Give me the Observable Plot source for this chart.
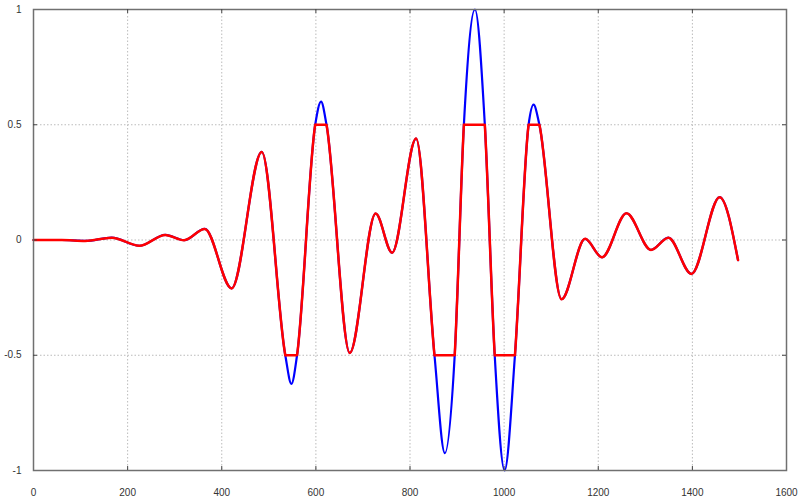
<!DOCTYPE html>
<html>
<head>
<meta charset="utf-8">
<script src="https://cdn.jsdelivr.net/npm/d3@7"></script>
<script src="https://cdn.jsdelivr.net/npm/@observablehq/plot@0.6"></script>
<style>
  html, body { margin: 0; padding: 0; background: #fff; }
  svg { display: block; }
</style>
</head>
<body>
<div id="chart"></div>
<script>
// Signal (blue): extrema and ±0.5 crossings
const sigX = [0, 60, 110, 166, 225, 280, 320, 364, 421, 485, 535, 548, 560, 598.6, 611, 622.6, 672, 727, 762, 813, 852, 874, 895, 914.5, 938, 959, 980, 1001, 1023, 1052, 1062.5, 1075, 1122, 1172, 1208, 1260, 1312, 1349, 1398, 1458, 1497];
const sigY = [0, 0, -0.004, 0.01, -0.025, 0.022, -0.001, 0.048, -0.21, 0.382, -0.5, -0.624, -0.5, 0.5, 0.6, 0.5, -0.49, 0.115, -0.055, 0.44, -0.5, -0.925, -0.5, 0.5, 1.0, 0.5, -0.5, -1.0, -0.5, 0.5, 0.587, 0.5, -0.257, 0.005, -0.075, 0.116, -0.043, 0.01, -0.147, 0.186, -0.087];

// Clipped (red) flat segments at the clip levels
const clipLevel = [-0.5, 0.5, -0.5, 0.5, -0.5, 0.5];
const clipStart = [535, 598.6, 852, 914.5, 980, 1052];
const clipEnd   = [560, 622.6, 895, 959, 1023, 1075];

// Ticks
const xTicks = [0, 200, 400, 600, 800, 1000, 1200, 1400, 1600];
const yTicks = [-1, -0.5, 0, 0.5, 1];
const xGrid = [200, 400, 600, 800, 1000, 1200, 1400];
const yGrid = [-0.5, 0, 0.5];

const signal = sigX.map((x, i) => ({x, y: sigY[i]}));
const flats = clipLevel.map((y, i) => ({y, x1: clipStart[i], x2: clipEnd[i]}));

const W = 800, H = 502;
const mL = 33, mR = 14, mT = 9, mB = 32;
const innerW = W - mL - mR, innerH = H - mT - mB;
const tickLen = 4;

const chart = Plot.plot({
  width: W,
  height: H,
  marginLeft: mL,
  marginRight: mR,
  marginTop: mT,
  marginBottom: mB,
  style: {fontFamily: "'Liberation Sans', Arial, sans-serif", fontSize: "10px", color: "#333", background: "#fff"},
  x: {domain: [0, 1600], label: null},
  y: {domain: [-1, 1], label: null},
  marks: [
    Plot.ruleX(xGrid, {x: d => d, stroke: "#bbb", strokeWidth: 1, strokeDasharray: "1.5,2"}),
    Plot.ruleY(yGrid, {y: d => d, stroke: "#bbb", strokeWidth: 1, strokeDasharray: "1.5,2"}),
    Plot.line(signal, {x: "x", y: "y", stroke: "#0000ff", strokeWidth: 2.2, curve: "monotone-x"}),
    Plot.line(signal, {x: "x", y: "y", stroke: "#ff0000", strokeWidth: 2.5, curve: "monotone-x"}),
    Plot.ruleY(flats, {y: "y", x1: "x1", x2: "x2", stroke: "#ff0000", strokeWidth: 2.5}),
    Plot.frame({stroke: "#707070", strokeWidth: 1.5}),
    // inward tick marks
    Plot.ruleX(xGrid, {x: d => d, stroke: "#444", strokeWidth: 1, insetBottom: innerH - tickLen}),
    Plot.ruleX(xGrid, {x: d => d, stroke: "#444", strokeWidth: 1, insetTop: innerH - tickLen}),
    Plot.ruleY(yGrid, {y: d => d, stroke: "#444", strokeWidth: 1, insetRight: innerW - tickLen}),
    Plot.ruleY(yGrid, {y: d => d, stroke: "#444", strokeWidth: 1, insetLeft: innerW - tickLen}),
    Plot.axisX(xTicks, {anchor: "bottom", tickSize: 0, tickPadding: 18, tickFormat: d => String(d), fill: "#333", label: null}),
    Plot.axisY(yTicks, {anchor: "left", tickSize: 0, tickPadding: 12, tickFormat: d => String(d), fill: "#333", label: null})
  ]
});

// Clip the red line to the band [-0.5, 0.5] using the plot's own y scale
const yScaleObj = chart.scale("y");
const bandTop = yScaleObj.apply(0.5) - 1, bandBot = yScaleObj.apply(-0.5) + 1;
const svgNS = "http://www.w3.org/2000/svg";
const defsEl = document.createElementNS(svgNS, "defs");
const clipEl = document.createElementNS(svgNS, "clipPath");
clipEl.setAttribute("id", "bandclip");
const rectEl = document.createElementNS(svgNS, "rect");
rectEl.setAttribute("x", 0); rectEl.setAttribute("y", bandTop);
rectEl.setAttribute("width", W); rectEl.setAttribute("height", bandBot - bandTop);
clipEl.appendChild(rectEl); defsEl.appendChild(clipEl);
chart.insertBefore(defsEl, chart.firstChild);
const redLines = [...chart.querySelectorAll('g[stroke="#ff0000"]')].filter(g => g.querySelector("path"));
if (redLines.length) redLines[0].setAttribute("clip-path", "url(#bandclip)");

document.getElementById("chart").appendChild(chart);
</script>
</body>
</html>
